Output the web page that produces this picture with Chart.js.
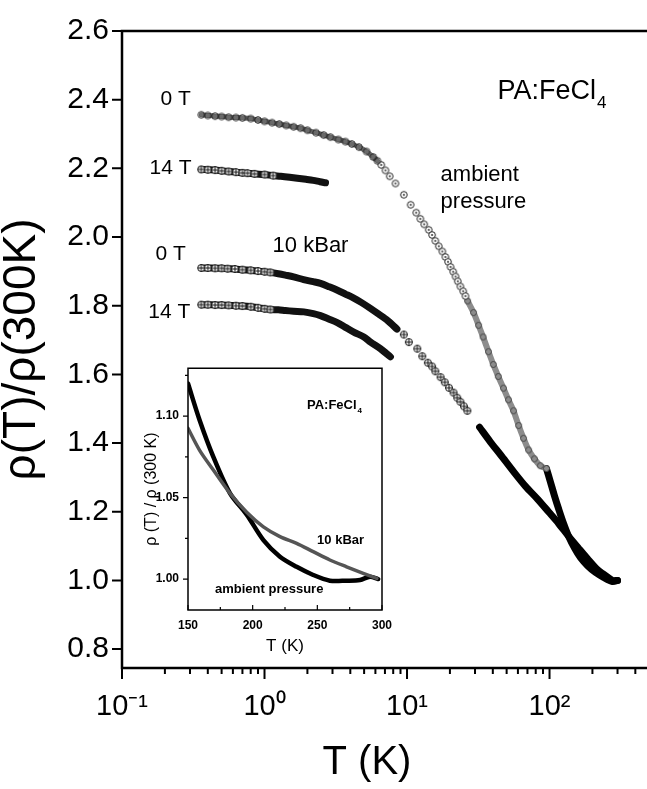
<!DOCTYPE html>
<html>
<head>
<meta charset="utf-8">
<title>PA:FeCl4 resistivity</title>
<script src="https://cdn.jsdelivr.net/npm/chart.js"></script>
<style>
    html, body { margin: 0; padding: 0; background: #fff; }
    #wrap { position: relative; width: 647px; height: 789px; }
    #main { position: absolute; left: 0; top: 0; }
    #inset { position: absolute; left: 130px; top: 352px; pointer-events: none; }
</style>
</head>
<body>
<div id="wrap">
    <canvas id="main" width="647" height="789"></canvas>
    <canvas id="inset" width="270" height="310"></canvas>
</div>
<script>
// --- Data: T in K, rho(T)/rho(300K) ---

// ambient pressure, 0 T (open circles: dense part, sparse part, grey band, thick tail)
const amb0DenseT = [0.36, 0.4, 0.45, 0.5, 0.56, 0.63, 0.7, 0.8, 0.9, 1.0, 1.13, 1.27, 1.42, 1.6, 1.79, 2.0, 2.3, 2.6, 2.9, 3.3, 3.7, 4.1, 4.6, 5.2, 5.8, 6.2];
const amb0DenseR = [2.356, 2.354, 2.352, 2.351, 2.349, 2.348, 2.347, 2.345, 2.341, 2.337, 2.333, 2.329, 2.325, 2.321, 2.317, 2.311, 2.304, 2.297, 2.291, 2.284, 2.278, 2.271, 2.262, 2.249, 2.233, 2.222];
const amb0SparseT = [6.6, 7.06, 7.56, 8.3, 9.5, 10.6, 11.6, 12.4, 13.2, 14.2, 15.0, 15.8, 16.7, 17.7, 18.6, 19.4, 20.2, 21.1, 21.9, 22.7, 23.7, 24.8, 25.7];
const amb0SparseR = [2.210, 2.194, 2.177, 2.156, 2.123, 2.094, 2.071, 2.053, 2.037, 2.021, 2.006, 1.989, 1.973, 1.958, 1.942, 1.928, 1.913, 1.899, 1.885, 1.871, 1.856, 1.842, 1.828];
const amb0GreyT = [26.6, 29.3, 31.8, 34.2, 37.3, 40.3, 43.7, 47.5, 51.5, 55.9, 60.7, 65.7, 71.3, 78.3, 86.2, 95.1];
const amb0GreyR = [1.814, 1.780, 1.743, 1.709, 1.666, 1.629, 1.594, 1.560, 1.526, 1.494, 1.451, 1.414, 1.380, 1.354, 1.334, 1.326];
const amb0HighT = [95.1, 101.6, 108.4, 115.7, 125.4, 135.9, 149.8, 165, 184.9, 210.6, 239.4, 276.8, 300];
const amb0HighR = [1.326, 1.286, 1.246, 1.209, 1.166, 1.129, 1.094, 1.066, 1.043, 1.023, 1.009, 0.997, 1.0];

// ambient pressure, 14 T
const amb14T = [0.36, 0.4, 0.45, 0.5, 0.56, 0.63, 0.7, 0.76, 0.85, 1.0, 1.15, 1.3, 1.5, 1.7, 1.95, 2.2, 2.45, 2.68];
const amb14R = [2.197, 2.196, 2.195, 2.193, 2.191, 2.189, 2.187, 2.186, 2.184, 2.182, 2.179, 2.177, 2.174, 2.171, 2.168, 2.165, 2.161, 2.158];

// 10 kBar, 0 T
const kbar0DenseT = [0.36, 0.4, 0.45, 0.5, 0.55, 0.62, 0.7, 0.8, 0.9, 1.0, 1.1, 1.25, 1.4, 1.6, 1.88, 2.2, 2.47, 2.85, 3.25, 3.7, 4.2, 4.8, 5.5, 6.3, 7.3, 8.5];
const kbar0DenseR = [1.910, 1.910, 1.909, 1.909, 1.908, 1.907, 1.905, 1.903, 1.901, 1.899, 1.897, 1.893, 1.889, 1.884, 1.876, 1.870, 1.865, 1.855, 1.845, 1.834, 1.823, 1.809, 1.793, 1.776, 1.757, 1.732];
const kbar0SparseT = [9.5, 10.3, 11.8, 12.8, 14.0, 15.0, 15.8, 17.2, 18.4, 19.7, 21.2, 22.5, 23.7, 25.1, 26.5];
const kbar0SparseR = [1.716, 1.694, 1.675, 1.653, 1.634, 1.623, 1.609, 1.592, 1.577, 1.561, 1.547, 1.532, 1.520, 1.507, 1.494];
const kbar0HighT = [32.3, 38.5, 45.3, 55.9, 67.9, 82.4, 98.4, 115.7, 135.9, 159.8, 184.9, 213.8, 247, 276.8, 300];
const kbar0HighR = [1.446, 1.403, 1.366, 1.317, 1.274, 1.237, 1.200, 1.166, 1.129, 1.094, 1.063, 1.034, 1.014, 1.0, 1.0];

// 10 kBar, 14 T
const kbar14T = [0.36, 0.4, 0.45, 0.5, 0.56, 0.63, 0.7, 0.8, 0.9, 1.0, 1.1, 1.25, 1.4, 1.6, 1.89, 2.2, 2.47, 2.8, 3.24, 3.7, 4.23, 4.98, 5.55, 6.5, 7.65];
const kbar14R = [1.803, 1.803, 1.802, 1.802, 1.801, 1.800, 1.799, 1.797, 1.794, 1.791, 1.789, 1.788, 1.786, 1.784, 1.782, 1.777, 1.771, 1.762, 1.751, 1.737, 1.723, 1.709, 1.694, 1.675, 1.651];

// main axis ticks
const xTicks = [0.1, 0.2, 0.3, 0.4, 0.5, 0.6, 0.7, 0.8, 0.9, 1, 2, 3, 4, 5, 6, 7, 8, 9, 10, 20, 30, 40, 50, 60, 70, 80, 90, 100, 200, 300, 400];
const xTickLabels = { '0.1': '10⁻¹', '1': '10⁰', '10': '10¹', '100': '10²' };
const yTicks = [0.8, 0.9, 1.0, 1.1, 1.2, 1.3, 1.4, 1.5, 1.6, 1.7, 1.8, 1.9, 2.0, 2.1, 2.2, 2.3, 2.4, 2.5, 2.6];

// inset: 150-300 K, linear
const insetAmbT = [150, 159, 169.6, 182.5, 195.4, 208.3, 221.1, 234, 246.8, 259.7, 272.6, 283, 290.7, 297];
const insetAmbR = [1.120, 1.0975, 1.075, 1.0526, 1.0395, 1.0239, 1.0137, 1.0075, 1.0025, 0.999, 0.999, 0.9994, 1.0014, 1.000];
const insetKbarT = [150, 159, 169.6, 182.5, 195.4, 208.3, 221.1, 234, 246.8, 259.7, 272.6, 285.5, 296];
const insetKbarR = [1.0925, 1.079, 1.0669, 1.0526, 1.0410, 1.032, 1.026, 1.0219, 1.0168, 1.0117, 1.0075, 1.0035, 1.0004];
const insetXTicks = [150, 175, 200, 225, 250, 275, 300];
const insetYTicks = [1.0, 1.025, 1.05, 1.075, 1.10, 1.125];

// --- Styling helpers ---
const FONT = "'Liberation Sans', Arial, Helvetica, sans-serif";
const NARROW = "'Liberation Sans Narrow', 'Liberation Sans', Arial, sans-serif";

function marker(kind, r, stroke, fill) {
    const s = Math.ceil(2 * r + 3);
    const c = document.createElement('canvas');
    c.width = s;
    c.height = s;
    const g = c.getContext('2d');
    const m = s / 2;
    g.lineWidth = 1;
    g.strokeStyle = stroke;
    g.beginPath();
    g.arc(m, m, r, 0, 2 * Math.PI);
    if (fill) {
        g.fillStyle = fill;
        g.fill();
    }
    g.stroke();
    if (kind === 'dot') {
        g.fillStyle = stroke;
        g.beginPath();
        g.arc(m, m, 0.9, 0, 2 * Math.PI);
        g.fill();
    } else if (kind === 'plus') {
        g.beginPath();
        g.moveTo(m - r, m); g.lineTo(m + r, m);
        g.moveTo(m, m - r); g.lineTo(m, m + r);
        g.stroke();
    }
    return c;
}

const dotMark = marker('dot', 3.3, '#222', '#fff');
const ringMark = marker('ring', 3.3, '#222', null);
const greyRing = marker('ring', 3, '#444', null);
const plusMark = marker('plus', 3.5, '#111', '#fff');

function series(T, R, style) {
    return Object.assign({
        data: T.map((x, i) => ({ x: x, y: R[i] })),
        showLine: true,
        tension: 0.3,
        borderCapStyle: 'round',
        borderJoinStyle: 'round',
        pointHoverRadius: 0,
        pointHitRadius: 0
    }, style);
}

// crosshair markers only on the low-T start of the solid bands
const lowTRadius = ctx => (ctx.raw && ctx.raw.x < 1.2) ? 3.5 : 0;

const isDecade = v => Math.abs(Math.log10(v) - Math.round(Math.log10(v))) < 1e-6;
const isMainYMajor = v => Math.round(v * 10) % 2 === 0;
const isInsetXMajor = v => v % 50 === 0;
const isInsetYMajor = v => Math.round(v * 1000) % 50 === 0;

// keep the plot area edge-to-edge: drop the label overhang padding of the x scale
function fixXScale(height) {
    return s => {
        s.height = height;
        s.paddingLeft = 0;
        s.paddingRight = 0;
    };
}

// frame lines round the plot area (and white fill for the inset)
function framePlugin(sides, width, fill) {
    return {
        id: 'frame',
        beforeDraw(chart) {
            if (!fill) return;
            const a = chart.chartArea;
            chart.ctx.save();
            chart.ctx.fillStyle = fill;
            chart.ctx.fillRect(a.left, a.top, a.width, a.height);
            chart.ctx.restore();
        },
        afterDraw(chart) {
            const { ctx, chartArea: a } = chart;
            ctx.save();
            ctx.strokeStyle = '#000';
            ctx.lineWidth = width;
            ctx.lineCap = 'square';
            ctx.beginPath();
            if (sides.includes('top')) { ctx.moveTo(a.left, a.top); ctx.lineTo(a.right, a.top); }
            if (sides.includes('right')) { ctx.moveTo(a.right, a.top); ctx.lineTo(a.right, a.bottom); }
            if (sides.includes('bottom')) { ctx.moveTo(a.left, a.bottom); ctx.lineTo(a.right, a.bottom); }
            if (sides.includes('left')) { ctx.moveTo(a.left, a.top); ctx.lineTo(a.left, a.bottom); }
            ctx.stroke();
            ctx.restore();
        }
    };
}

// major / minor tick marks on the x and y scales
function tickPlugin(cfg) {
    return {
        id: 'tickMarks',
        afterDraw(chart) {
            const { ctx, chartArea: a, scales } = chart;
            ctx.save();
            ctx.strokeStyle = '#000';
            ctx.lineWidth = cfg.width;
            ctx.beginPath();
            scales.x.ticks.forEach(t => {
                const px = scales.x.getPixelForValue(t.value);
                const len = cfg.xMajor(t.value) ? cfg.xLen[0] : cfg.xLen[1];
                ctx.moveTo(px, a.bottom);
                ctx.lineTo(px, a.bottom + cfg.xDir * len);
            });
            scales.y.ticks.forEach(t => {
                const py = scales.y.getPixelForValue(t.value);
                const len = cfg.yMajor(t.value) ? cfg.yLen[0] : cfg.yLen[1];
                ctx.moveTo(a.left, py);
                ctx.lineTo(a.left - cfg.yDir * len, py);
            });
            ctx.stroke();
            ctx.restore();
        }
    };
}

// free text labels, placed in data units (x, y) or canvas pixels (px, py)
function notesPlugin(notes) {
    return {
        id: 'notes',
        afterDraw(chart) {
            const { ctx, scales } = chart;
            ctx.save();
            ctx.fillStyle = '#000';
            ctx.textBaseline = 'middle';
            notes.forEach(n => {
                const x = n.px !== undefined ? n.px : scales.x.getPixelForValue(n.x);
                const y = n.py !== undefined ? n.py : scales.y.getPixelForValue(n.y);
                const family = n.family || FONT;
                const weight = n.bold ? 'bold ' : '';
                ctx.font = weight + n.size + 'px ' + family;
                ctx.textAlign = n.align || 'left';
                ctx.fillText(n.text, x, y);
                if (n.sub) {
                    const w = ctx.measureText(n.text).width;
                    ctx.font = weight + Math.round(n.size * 0.62) + 'px ' + family;
                    ctx.textAlign = 'left';
                    ctx.fillText(n.sub, x + w + 1, y + n.size * 0.42);
                }
            });
            ctx.restore();
        }
    };
}

// --- Main chart ---
const mainNotes = [
    { text: '0 T', x: 0.186, y: 2.40, size: 21 },
    { text: '14 T', x: 0.156, y: 2.20, size: 21 },
    { text: '0 T', x: 0.172, y: 1.95, size: 21 },
    { text: '14 T', x: 0.153, y: 1.78, size: 21 },
    { text: '10 kBar', x: 1.14, y: 1.975, size: 22 },
    { text: 'ambient', x: 17.2, y: 2.18, size: 22 },
    { text: 'pressure', x: 17.2, y: 2.103, size: 22 },
    { text: 'PA:FeCl', sub: '4', x: 43.2, y: 2.423, size: 27 },
    { text: 'T (K)', px: 367, py: 763, size: 40, align: 'center' }
];

new Chart(document.getElementById('main'), {
    type: 'scatter',
    data: {
        datasets: [
            series(amb0DenseT, amb0DenseR, { borderColor: '#6a6a6a', borderWidth: 5, pointStyle: ringMark, pointRadius: 3 }),
            series(amb0SparseT, amb0SparseR, { showLine: false, pointStyle: dotMark, pointRadius: 3 }),
            series(amb0GreyT, amb0GreyR, { borderColor: '#8c8c8c', borderWidth: 6, pointStyle: greyRing, pointRadius: 3 }),
            series(amb0HighT, amb0HighR, { borderColor: '#000', borderWidth: 7, pointRadius: 0 }),
            series(amb14T, amb14R, { borderColor: '#111', borderWidth: 7, pointStyle: plusMark, pointRadius: lowTRadius }),
            series(kbar0DenseT, kbar0DenseR, { borderColor: '#111', borderWidth: 7, pointStyle: plusMark, pointRadius: lowTRadius }),
            series(kbar0SparseT, kbar0SparseR, { showLine: false, pointStyle: plusMark, pointRadius: 3.5 }),
            series(kbar0HighT, kbar0HighR, { borderColor: '#000', borderWidth: 7, pointRadius: 0 }),
            series(kbar14T, kbar14R, { borderColor: '#111', borderWidth: 7, pointStyle: plusMark, pointRadius: lowTRadius })
        ]
    },
    options: {
        responsive: false,
        animation: false,
        layout: { autoPadding: false, padding: { top: 18, right: 0, bottom: 0, left: 0 } },
        plugins: { legend: { display: false }, tooltip: { enabled: false } },
        scales: {
            x: {
                type: 'logarithmic',
                min: 0.1,
                max: 483,
                afterBuildTicks: s => { s.ticks = xTicks.map(v => ({ value: v })); },
                afterFit: fixXScale(121),
                grid: { display: false, drawTicks: false },
                border: { display: false },
                ticks: {
                    autoSkip: false,
                    maxRotation: 0,
                    padding: 22,
                    color: '#000',
                    font: { family: FONT, size: 29 },
                    callback: v => xTickLabels[String(v)] || ''
                }
            },
            y: {
                min: 0.745,
                max: 2.6,
                afterBuildTicks: s => { s.ticks = yTicks.map(v => ({ value: v })); },
                afterFit: s => { s.width = 122; },
                grid: { display: false, drawTicks: false },
                border: { display: false },
                ticks: {
                    padding: 13,
                    color: '#000',
                    font: { family: FONT, size: 30 },
                    callback: v => isMainYMajor(v) ? v.toFixed(1) : ''
                },
                title: {
                    display: true,
                    text: 'ρ(T)/ρ(300K)',
                    color: '#000',
                    font: { family: FONT, size: 46 },
                    padding: { top: -5, bottom: 0 }
                }
            }
        }
    },
    plugins: [
        framePlugin(['top', 'left', 'bottom'], 2.5, null),
        tickPlugin({ width: 2, xMajor: isDecade, yMajor: isMainYMajor, xLen: [11, 6], yLen: [10, 6], xDir: 1, yDir: 1 }),
        notesPlugin(mainNotes)
    ]
});

// --- Inset chart ---
const insetNotes = [
    { text: 'PA:FeCl', sub: '4', x: 242, y: 1.1067, size: 13, bold: true, family: NARROW },
    { text: '10 kBar', x: 249.8, y: 1.0239, size: 13, bold: true, family: NARROW },
    { text: 'ambient pressure', x: 170.9, y: 0.9939, size: 13, bold: true, family: NARROW }
];

new Chart(document.getElementById('inset'), {
    type: 'scatter',
    data: {
        datasets: [
            series(insetKbarT, insetKbarR, { borderColor: '#555', borderWidth: 3.5, pointRadius: 0 }),
            series(insetAmbT, insetAmbR, { borderColor: '#000', borderWidth: 4.5, pointRadius: 0 })
        ]
    },
    options: {
        responsive: false,
        animation: false,
        layout: { autoPadding: false, padding: { top: 16, right: 18, bottom: 0, left: 0 } },
        plugins: { legend: { display: false }, tooltip: { enabled: false } },
        scales: {
            x: {
                min: 150,
                max: 300,
                afterBuildTicks: s => { s.ticks = insetXTicks.map(v => ({ value: v })); },
                afterFit: fixXScale(52),
                grid: { display: false, drawTicks: false },
                border: { display: false },
                ticks: {
                    autoSkip: false,
                    maxRotation: 0,
                    padding: 8,
                    color: '#000',
                    font: { family: NARROW, size: 12, weight: 'bold' },
                    callback: v => isInsetXMajor(v) ? String(v) : ''
                },
                title: {
                    display: true,
                    text: 'T (K)',
                    color: '#000',
                    font: { family: FONT, size: 17 },
                    padding: { top: 0, bottom: 5 }
                }
            },
            y: {
                min: 0.981,
                max: 1.1294,
                afterBuildTicks: s => { s.ticks = insetYTicks.map(v => ({ value: v })); },
                afterFit: s => { s.width = 58; },
                grid: { display: false, drawTicks: false },
                border: { display: false },
                ticks: {
                    padding: 9,
                    color: '#000',
                    font: { family: NARROW, size: 12, weight: 'bold' },
                    callback: v => isInsetYMajor(v) ? v.toFixed(2) : ''
                },
                title: {
                    display: true,
                    text: 'ρ (T) / ρ (300 K)',
                    color: '#000',
                    font: { family: FONT, size: 16 },
                    padding: { top: 12, bottom: 0 }
                }
            }
        }
    },
    plugins: [
        framePlugin(['top', 'right', 'bottom', 'left'], 1.5, '#fff'),
        tickPlugin({ width: 1.2, xMajor: isInsetXMajor, yMajor: isInsetYMajor, xLen: [5, 3], yLen: [5, 3], xDir: -1, yDir: 1 }),
        notesPlugin(insetNotes)
    ]
});
</script>
</body>
</html>
